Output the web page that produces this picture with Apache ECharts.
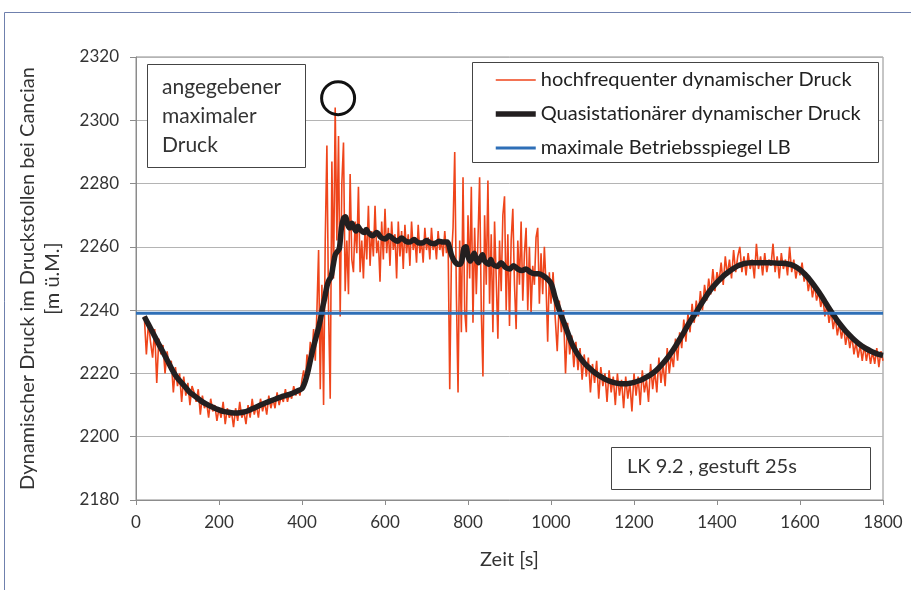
<!DOCTYPE html>
<html><head><meta charset="utf-8">
<script src="https://cdn.jsdelivr.net/npm/echarts@6/dist/echarts.min.js"></script>
<style>html,body{margin:0;padding:0;background:#fff}#c{width:911px;height:590px}</style>
</head><body><div id="c"></div>
<script>
// ---- data ----
const seriesNames = ['hochfrequenter dynamischer Druck', 'Quasistationärer dynamischer Druck', 'maximale Betriebsspiegel LB'];
const xLabelName = 'Zeit [s]';
const yLabelName = 'Dynamischer Druck im Druckstollen bei Cancian\n[m ü.M.]';

// high-frequency pressure, segment 1: t = 20..400, every 5 s
const red1Start = 20, red1Step = 5;
const red1 = [
 2238,2226,2236,2230,2225,2234,2217,2231,2226,2229,
 2220,2227,2222,2224,2214,2222,2216,2220,2211,2219,
 2213,2217,2210,2216,2214,2211,2215,2207,2213,2209,
 2211,2206,2212,2208,2210,2205,2209,2206,2211,2204,
 2209,2206,2208,2203,2209,2205,2211,2206,2208,2204,
 2210,2206,2212,2207,2210,2206,2212,2208,2211,2207,
 2213,2209,2212,2209,2214,2210,2213,2211,2215,2211,
 2214,2212,2216,2213,2215,2213,2218
];
// segment 2: t = 404..1000, every 4 s
const red2Start = 404, red2Step = 4;
const red2 = [
 2221,2217,2226,2222,2230,2226,2234,2224,2240,2259,
 2215,2248,2210,2262,2292,2240,2212,2287,2250,2304,
 2262,2295,2238,2280,2293,2246,2262,2245,2283,2256,
 2252,2268,2258,2279,2252,2262,2250,2266,2256,2273,
 2254,2265,2257,2273,2258,2262,2249,2268,2256,2272,
 2258,2266,2254,2268,2259,2264,2250,2268,2257,2265,
 2253,2267,2258,2264,2254,2268,2259,2263,2255,2267,
 2258,2262,2255,2266,2259,2263,2256,2266,2259,2262,
 2256,2265,2259,2262,2257,2265,2258,2262,2215,2256,
 2266,2290,2245,2214,2262,2233,2282,2240,2233,2270,
 2250,2279,2236,2266,2245,2262,2282,2240,2219,2270,
 2248,2281,2242,2264,2233,2268,2250,2231,2262,2246,
 2270,2276,2240,2264,2235,2262,2272,2248,2234,2262,
 2248,2268,2243,2258,2266,2240,2260,2239,2254,2248,
 2263,2266,2242,2258,2245,2260,2248,2230,2252,2242
];
// segment 3: t = 1005..1800, every 5 s
const red3Start = 1005, red3Step = 5;
const red3 = [
 2252,2238,2227,2243,2233,2240,2220,2236,2226,2232,
 2222,2230,2221,2228,2218,2226,2219,2225,2214,2223,
 2217,2224,2212,2222,2216,2220,2211,2221,2214,2219,
 2210,2220,2213,2218,2209,2219,2212,2217,2208,2220,
 2213,2219,2210,2221,2214,2218,2211,2223,2215,2221,
 2214,2225,2217,2223,2216,2228,2220,2226,2222,2231,
 2224,2233,2228,2237,2230,2239,2233,2242,2236,2243,
 2238,2246,2240,2248,2243,2250,2245,2253,2246,2252,
 2249,2255,2248,2257,2251,2256,2250,2259,2252,2257,
 2260,2252,2257,2251,2258,2253,2256,2250,2261,2253,
 2257,2251,2258,2252,2256,2254,2261,2252,2257,2250,
 2258,2253,2256,2251,2260,2252,2256,2250,2254,2251,
 2255,2249,2252,2246,2250,2244,2248,2243,2246,2241,
 2244,2238,2242,2236,2240,2234,2238,2232,2236,2231,
 2235,2229,2233,2228,2232,2226,2230,2225,2229,2224,
 2229,2224,2228,2223,2227,2223,2228,2222,2227,2224
];

// quasi-stationary pressure [t, value]
const quasiData = [
 [20,2238],[30,2235.5],[40,2233],[50,2230.5],[60,2228],[70,2225.5],[80,2223],[90,2220.5],
 [100,2218.5],[110,2217],[120,2215.5],[130,2214],[140,2213],[150,2212],[160,2211],[170,2210.3],
 [180,2209.6],[190,2209],[200,2208.5],[210,2208],[220,2207.8],[230,2207.6],[240,2207.5],[250,2207.6],
 [260,2207.8],[270,2208.2],[280,2208.8],[290,2209.4],[300,2210],[310,2210.6],[320,2211.1],[330,2211.6],
 [340,2212.1],[350,2212.6],[360,2213],[370,2213.4],[380,2213.9],[390,2214.5],[400,2215.2],[405,2216.5],
 [410,2218.5],[415,2221],[420,2224],[425,2227],[430,2229.5],[435,2232],[440,2234.5],[445,2237.5],
 [450,2241],[455,2244],[460,2247.5],[465,2249.5],[470,2250.5],[475,2254],[480,2257.5],[485,2258.5],
 [490,2259.5],[495,2266],[500,2269],[505,2269.5],[510,2267],[515,2266],[520,2267.5],[525,2266],
 [530,2265],[535,2266.5],[540,2265.5],[550,2264.5],[555,2265.5],[560,2264.5],[570,2263.5],[580,2264.5],
 [590,2263],[600,2262.5],[610,2263.5],[620,2262.5],[630,2261.8],[640,2262.8],[650,2261.8],[660,2261.5],
 [670,2262.3],[680,2261.3],[690,2261.2],[700,2262],[710,2261.2],[720,2261],[730,2261.8],[740,2261.5],
 [750,2261.5],[755,2260],[760,2257.5],[765,2256],[770,2255],[775,2254.5],[780,2254.5],[785,2255.5],
 [790,2259.5],[795,2260],[800,2257],[805,2255.5],[810,2256.5],[815,2258],[820,2256],[825,2255],
 [830,2256.5],[835,2257.5],[840,2255.5],[850,2254.5],[855,2256],[860,2254.5],[870,2253.8],[880,2255],
 [890,2253.5],[900,2253],[910,2254],[920,2253],[930,2252.5],[940,2253],[950,2252],[960,2251.5],
 [970,2251.5],[980,2251],[990,2250],[1000,2248.5],[1005,2246.5],[1010,2244],[1020,2240],[1030,2236.5],
 [1040,2233],[1050,2229.5],[1060,2227],[1070,2225],[1080,2223.3],[1090,2222],[1100,2220.8],[1110,2219.8],
 [1120,2219],[1130,2218.2],[1140,2217.6],[1150,2217.2],[1160,2216.9],[1170,2216.7],[1180,2216.7],[1190,2216.9],
 [1200,2217.2],[1210,2217.6],[1220,2218.1],[1230,2218.8],[1240,2219.6],[1250,2220.6],[1260,2221.8],[1270,2223.2],
 [1280,2224.8],[1290,2226.6],[1300,2228.6],[1310,2230.8],[1320,2233],[1330,2235.3],[1340,2237.4],[1350,2239.3],
 [1360,2241.5],[1370,2243.6],[1380,2245.6],[1390,2247.3],[1400,2248.8],[1410,2250.1],[1420,2251.3],[1430,2252.3],
 [1440,2253.2],[1450,2254],[1460,2254.5],[1470,2254.8],[1480,2255],[1490,2255],[1500,2255],[1510,2255],
 [1520,2255],[1530,2255],[1540,2254.9],[1550,2254.8],[1560,2254.8],[1570,2254.6],[1580,2254.3],[1590,2253.7],
 [1600,2252.8],[1610,2251.6],[1620,2250.2],[1630,2248.5],[1640,2246.7],[1650,2244.8],[1660,2242.7],[1670,2240.6],
 [1680,2238.6],[1690,2236.7],[1700,2235],[1710,2233.4],[1720,2232],[1730,2230.7],[1740,2229.6],[1750,2228.6],
 [1760,2227.8],[1770,2227.1],[1780,2226.5],[1790,2226],[1800,2225.7]
];

// maximum operating level
const limitLevel = 2239;
const limitRange = [0, 1800];
// marked maximum
const peakMark = [[487, 2307]];

const infoText = 'angegebener\nmaximaler\nDruck';
const caseText = 'LK 9.2 , gestuft 25s';

// ---- build ----
function seg(start, step, vals) { return vals.map((v, i) => [start + i * step, v]); }
const redData = seg(red1Start, red1Step, red1).concat(seg(red2Start, red2Step, red2), seg(red3Start, red3Step, red3));
const limitData = limitRange.map(t => [t, limitLevel]);

const RED = '#ef451b', BLACK = '#231f20', BLUE = '#2e6fb7';
const FONT = 'Lato';
const chart = echarts.init(document.getElementById('c'), null, {renderer: 'canvas'});
chart.setOption({
  animation: false,
  backgroundColor: '#fff',
  textStyle: {fontFamily: FONT},
  grid: {left: 136, right: 28, top: 57, bottom: 90, containLabel: false, outerBoundsMode: 'none',
         show: true, borderColor: '#8c8c8c', borderWidth: 1},
  xAxis: {
    type: 'value', min: 0, max: 1800, interval: 200,
    axisLine: {show: true, lineStyle: {color: '#8c8c8c'}},
    axisTick: {show: true, inside: false, length: 5, lineStyle: {color: '#8c8c8c'}},
    axisLabel: {fontSize: 17, color: '#333', margin: 14, fontFamily: FONT, formatter: v => String(v)},
    splitLine: {show: false},
    name: xLabelName, nameLocation: 'middle', nameGap: 50,
    nameTextStyle: {fontSize: 20, color: '#333', fontFamily: FONT}
  },
  yAxis: {
    type: 'value', min: 2180, max: 2320, interval: 20,
    axisLine: {show: true, lineStyle: {color: '#8c8c8c'}},
    axisTick: {show: true, inside: false, length: 6, lineStyle: {color: '#8c8c8c'}},
    axisLabel: {fontSize: 17, color: '#333', margin: 17, fontFamily: FONT, formatter: v => String(v)},
    splitLine: {show: true, lineStyle: {color: '#b4b4b4', width: 1}},
    name: yLabelName, nameLocation: 'middle', nameGap: 71,
    nameTextStyle: {fontSize: 20, color: '#333', lineHeight: 25, fontFamily: FONT}
  },
  legend: {
    left: 488, top: 65, orient: 'vertical', itemWidth: 40, itemHeight: 14, itemGap: 14,
    itemStyle: {opacity: 0},
    textStyle: {fontSize: 20, color: '#222', lineHeight: 20, fontFamily: FONT},
    data: [
      {name: seriesNames[0], lineStyle: {color: RED, width: 1.5}},
      {name: seriesNames[1], lineStyle: {color: BLACK, width: 5.5}},
      {name: seriesNames[2], lineStyle: {color: BLUE, width: 3}}
    ]
  },
  series: [
    {name: seriesNames[0], type: 'line', data: redData, symbol: 'none', showSymbol: false,
     lineStyle: {color: RED, width: 1.6}, itemStyle: {color: RED}, z: 2},
    {name: seriesNames[1], type: 'line', data: quasiData, symbol: 'none', showSymbol: false, smooth: 0.3,
     lineStyle: {color: BLACK, width: 5.5}, itemStyle: {color: BLACK}, z: 3},
    {name: seriesNames[2], type: 'line', data: limitData, symbol: 'none', showSymbol: false,
     lineStyle: {color: BLUE, width: 3}, itemStyle: {color: BLUE}, z: 4},
    {type: 'scatter', data: peakMark, symbol: 'circle', symbolSize: 33, silent: true,
     itemStyle: {color: 'rgba(0,0,0,0)', borderColor: '#111', borderWidth: 3, opacity: 1}, z: 5}
  ],
  graphic: [
    {type: 'rect', shape: {x: 4.5, y: 12.5, width: 930, height: 600}, style: {fill: 'none', stroke: '#6f80ad', lineWidth: 1}, silent: true, z: 0},
    {type: 'rect', shape: {x: 147.5, y: 64.5, width: 158, height: 103}, style: {fill: '#fff', stroke: '#444', lineWidth: 1}, z: 10},
    {type: 'text', left: 162, top: 73, style: {text: infoText, font: '21px Lato', fill: '#333', lineHeight: 29}, z: 11},
    {type: 'rect', shape: {x: 472.5, y: 62.5, width: 406, height: 100}, style: {fill: '#fff', stroke: '#444', lineWidth: 1}, z: 1},
    {type: 'rect', shape: {x: 611.5, y: 447.5, width: 259, height: 42}, style: {fill: '#fff', stroke: '#444', lineWidth: 1}, z: 10},
    {type: 'text', left: 627, top: 457, style: {text: caseText, font: '20px Lato', fill: '#333'}, z: 11}
  ]
});
</script></body></html>
